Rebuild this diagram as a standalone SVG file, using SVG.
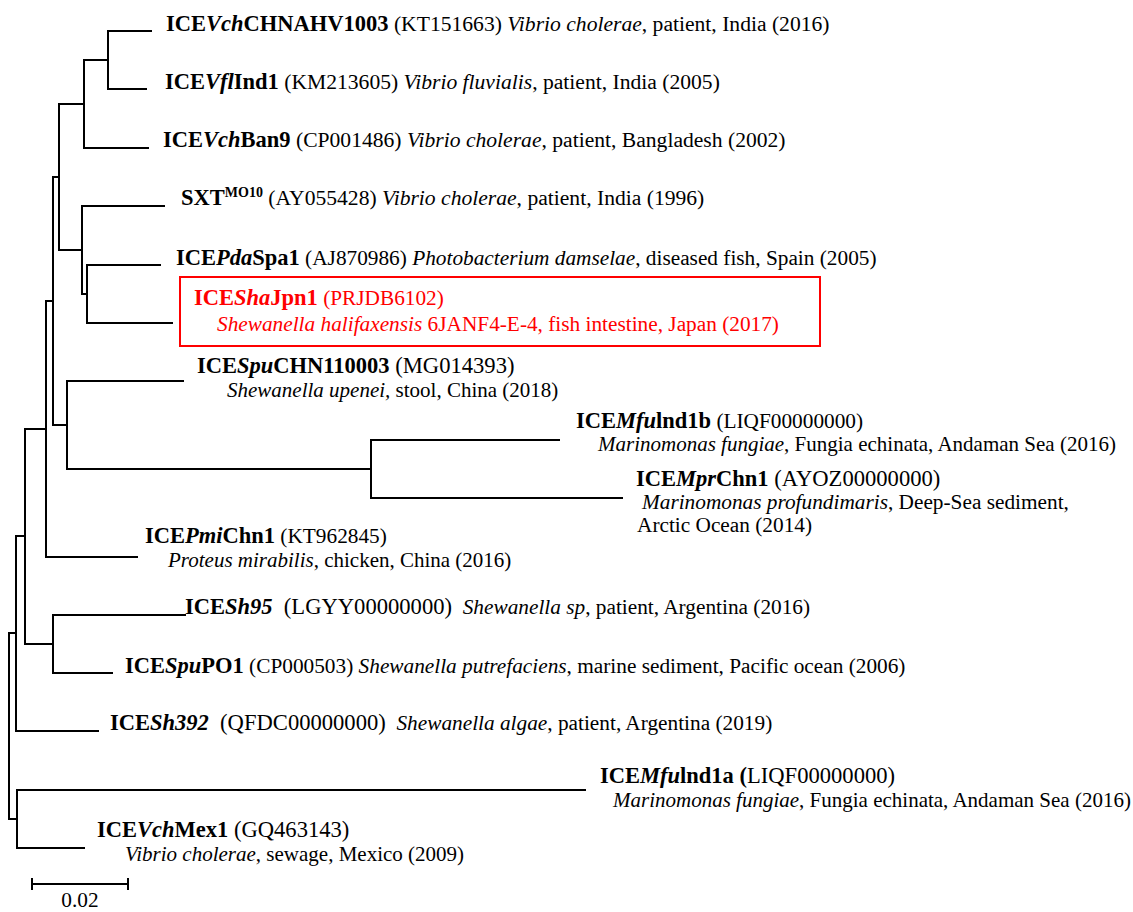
<svg xmlns="http://www.w3.org/2000/svg" width="1133" height="912" viewBox="0 0 1133 912">
<style>
text { font-family: "Liberation Serif", "Times New Roman", serif; font-size: 21.3px; fill: #000; }
.l1 { font-size: 21.6px; }
.l2 { font-size: 21px; }
.acc { font-size: 22.6px; }
.b { font-weight: bold; font-size: 22.5px; }
.i { font-style: italic; }
.sup { font-weight: bold; font-size: 14px; }
.red text { fill: #ff0000; }
.br { stroke: #000; stroke-width: 2; fill: none; stroke-linecap: square; }
.box { stroke: #ff0000; stroke-width: 2; fill: none; }
</style>
<rect width="1133" height="912" fill="#fff"/>
<g id="connectors">
<path class="br" d="M108,31H151M108,89H146M108,31V89M84,60H108M84,148H148M84,60V148M59,104H84M87,265H160M87,323H172M87,265V323M82,294H87M82,206H164M82,206V294M59,250H82M59,104V250M53,177H59M371,440H559M371,498H622M371,440V498M67,469H371M67,381H183M67,381V469M53,425H67M53,177V425M46,301H53M46,557H137M46,301V557M25,429H46M53,615H185M53,673H112M53,615V673M25,644H53M25,429V644M16,536H25M16,731H98M16,536V731M9,633H16M17,790H585M17,848H84M17,790V848M9,819H17M9,633V819"/>
</g>
<g id="node-VchCHNAHV1003"><text class="l1" x="166" y="31" xml:space="preserve"><tspan class="b">ICE<tspan class="i">Vch</tspan>CHNAHV1003</tspan> (KT151663) <tspan class="i">Vibrio cholerae</tspan>, patient, India (2016)</text></g>
<g id="node-VflInd1"><text class="l1" x="165" y="89" xml:space="preserve"><tspan class="b">ICE<tspan class="i">Vfl</tspan>Ind1</tspan> (KM213605) <tspan class="i">Vibrio fluvialis</tspan>, patient, India (2005)</text></g>
<g id="node-VchBan9"><text class="l1" x="163" y="147" xml:space="preserve"><tspan class="b">ICE<tspan class="i">Vch</tspan>Ban9</tspan> (CP001486) <tspan class="i">Vibrio cholerae</tspan>, patient, Bangladesh (2002)</text></g>
<g id="node-SXT"><text class="l1" x="181" y="205" xml:space="preserve"><tspan class="b">SXT</tspan><tspan class="sup" dy="-8">MO10</tspan><tspan dy="8"> (AY055428) </tspan><tspan class="i">Vibrio cholerae</tspan>, patient, India (1996)</text></g>
<g id="node-PdaSpa1"><text x="176" y="265" xml:space="preserve"><tspan class="b">ICE<tspan class="i">Pda</tspan>Spa1</tspan> (AJ870986) <tspan class="i">Photobacterium damselae</tspan>, diseased fish, Spain (2005)</text></g>
<g id="node-ShaJpn1" class="red">
<rect class="box" x="180" y="277" width="640" height="69"/>
<text x="194" y="305" xml:space="preserve"><tspan class="b">ICE<tspan class="i">Sha</tspan>Jpn1</tspan> (PRJDB6102)</text>
<text x="217" y="331" xml:space="preserve"><tspan class="i">Shewanella halifaxensis</tspan> 6JANF4-E-4, fish intestine, Japan (2017)</text>
</g>
<g id="node-SpuCHN110003">
<text x="197" y="373" xml:space="preserve"><tspan class="b">ICE<tspan class="i">Spu</tspan>CHN110003</tspan><tspan class="acc"> (MG014393)</tspan></text>
<text class="l2" x="227" y="397" xml:space="preserve"><tspan class="i">Shewanella upenei,</tspan> stool, China (2018)</text>
</g>
<g id="node-MfuInd1b">
<text x="576" y="428" xml:space="preserve"><tspan class="b">ICE<tspan class="i">Mfu</tspan>lnd1b</tspan> (LIQF00000000)</text>
<text class="l2" x="598" y="451" xml:space="preserve"><tspan class="i">Marinomonas fungiae</tspan>, Fungia echinata, Andaman Sea (2016)</text>
</g>
<g id="node-MprChn1">
<text x="636" y="486" xml:space="preserve"><tspan class="b">ICE<tspan class="i">Mpr</tspan>Chn1</tspan><tspan class="acc"> (AYOZ00000000)</tspan></text>
<text x="642" y="509" xml:space="preserve"><tspan class="i">Marinomonas profundimaris</tspan>, Deep-Sea sediment,</text>
<text x="637" y="532" xml:space="preserve">Arctic Ocean (2014)</text>
</g>
<g id="node-PmiChn1">
<text x="145" y="543" xml:space="preserve"><tspan class="b">ICE<tspan class="i">Pmi</tspan>Chn1</tspan> (KT962845)</text>
<text class="l2" x="168" y="567" xml:space="preserve"><tspan class="i">Proteus mirabilis</tspan>, chicken, China (2016)</text>
</g>
<g id="node-Sh95"><text x="185" y="614" xml:space="preserve"><tspan class="b">ICE<tspan class="i">Sh95</tspan></tspan><tspan class="acc">  (LGYY00000000)</tspan>  <tspan class="i">Shewanella sp</tspan>, patient, Argentina (2016)</text></g>
<g id="node-SpuPO1"><text x="125" y="673" xml:space="preserve"><tspan class="b">ICE<tspan class="i">Spu</tspan>PO1</tspan> (CP000503) <tspan class="i">Shewanella putrefaciens</tspan>, marine sediment, Pacific ocean (2006)</text></g>
<g id="node-Sh392"><text x="110" y="730" xml:space="preserve"><tspan class="b">ICE<tspan class="i">Sh392</tspan></tspan><tspan class="acc">  (QFDC00000000)</tspan>  <tspan class="i">Shewanella algae</tspan>, patient, Argentina (2019)</text></g>
<g id="node-MfuInd1a">
<text x="600" y="783" xml:space="preserve"><tspan class="b">ICE<tspan class="i">Mfu</tspan>lnd1a (</tspan><tspan class="acc">LIQF00000000)</tspan></text>
<text class="l2" x="613" y="807" xml:space="preserve"><tspan class="i">Marinomonas fungiae</tspan>, Fungia echinata, Andaman Sea (2016)</text>
</g>
<g id="node-VchMex1">
<text x="97" y="837" xml:space="preserve"><tspan class="b">ICE<tspan class="i">Vch</tspan>Mex1</tspan><tspan class="acc"> (GQ463143)</tspan></text>
<text class="l2" x="125" y="861" xml:space="preserve"><tspan class="i">Vibrio cholerae</tspan>, sewage, Mexico (2009)</text>
</g>
<g id="scale-bar">
<path class="br" stroke-width="2.5" d="M32,884H128M32,879V889M128,879V889"/>
<text x="80" y="907" text-anchor="middle">0.02</text>
</g>
</svg>
